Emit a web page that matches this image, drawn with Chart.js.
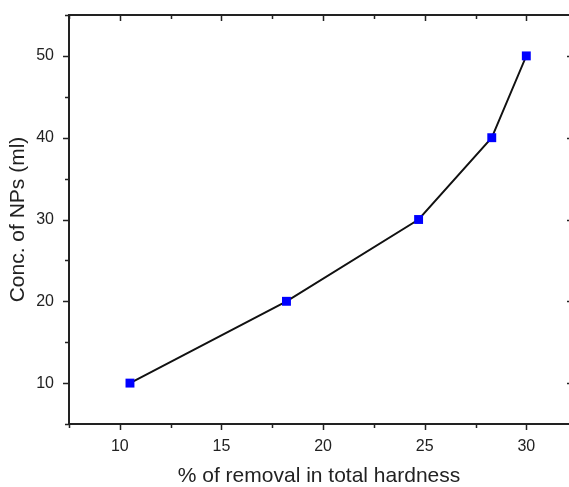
<!DOCTYPE html>
<html>
<head>
<meta charset="utf-8">
<script src="https://cdn.jsdelivr.net/npm/chart.js@4"></script>
<style>
  html, body { margin: 0; padding: 0; background: #fff; }
  #wrap { width: 569px; height: 487px; position: relative; }
</style>
</head>
<body>
<div id="wrap"><canvas id="chart" width="569" height="487"></canvas></div>
<script>
// data
const removal = [10.5, 18.2, 24.7, 28.3, 30];
const conc = [10, 20, 30, 40, 50];
const xTicks = [10, 15, 20, 25, 30];
const yTicks = [10, 20, 30, 40, 50];

const axisColor = '#222';
const fontFam = "'Liberation Sans', Arial, sans-serif";

// frame + origin-style ticks (out on bottom/left, in on top/right)
const frameTicks = {
    id: 'frameTicks',
    afterDraw(chart) {
        const ctx = chart.ctx;
        const a = chart.chartArea;
        const xs = chart.scales.x, ys = chart.scales.y;
        const rightEdge = a.right + 4; // right axis sits just past the canvas
        ctx.save();
        ctx.strokeStyle = axisColor;
        ctx.lineWidth = 2;
        ctx.beginPath();
        ctx.moveTo(a.right, a.top); ctx.lineTo(a.left, a.top);
        ctx.lineTo(a.left, a.bottom); ctx.lineTo(a.right, a.bottom);
        ctx.stroke();

        ctx.lineWidth = 1.5;
        ctx.beginPath();
        for (let v = 7.5; v <= xs.max; v += 2.5) {
            const px = Math.round(xs.getPixelForValue(v)) + 0.5;
            const len = xTicks.includes(v) ? 6 : 4;
            ctx.moveTo(px, a.bottom); ctx.lineTo(px, a.bottom + len);
            ctx.moveTo(px, a.top); ctx.lineTo(px, a.top + len);
        }
        for (let v = 5; v <= ys.max; v += 5) {
            const py = Math.round(ys.getPixelForValue(v)) + 0.5;
            const len = yTicks.includes(v) ? 6 : 4;
            ctx.moveTo(a.left, py); ctx.lineTo(a.left - len, py);
            ctx.moveTo(rightEdge, py); ctx.lineTo(rightEdge - len, py);
        }
        ctx.stroke();
        ctx.restore();
    }
};

new Chart(document.getElementById('chart'), {
    type: 'scatter',
    data: {
        datasets: [{
            data: removal.map((x, i) => ({ x: x, y: conc[i] })),
            showLine: true,
            borderColor: '#111',
            borderWidth: 1.9,
            pointStyle: 'rect',
            pointRadius: 6.3,
            pointBackgroundColor: '#0000ff',
            pointBorderColor: '#0000ff',
            pointBorderWidth: 0
        }]
    },
    options: {
        responsive: false,
        animation: false,
        layout: { autoPadding: false, padding: { top: 15, right: 0, left: 0, bottom: 0 } },
        plugins: {
            legend: { display: false },
            tooltip: { enabled: false }
        },
        scales: {
            x: {
                type: 'linear',
                min: 7.5,
                max: 32.1,
                afterBuildTicks: s => { s.ticks = xTicks.map(v => ({ value: v })); },
                afterFit: s => { s.height = 63; s.paddingLeft = 0; s.paddingRight = 0; },
                grid: { display: false, drawTicks: false },
                border: { display: false },
                ticks: {
                    color: '#222',
                    padding: 13,
                    maxRotation: 0,
                    font: { family: fontFam, size: 16 }
                },
                title: {
                    display: true,
                    text: '% of removal in total hardness',
                    color: '#222',
                    padding: { top: 0, bottom: -2 },
                    font: { family: fontFam, size: 21 }
                }
            },
            y: {
                type: 'linear',
                min: 5,
                max: 55,
                afterBuildTicks: s => { s.ticks = yTicks.map(v => ({ value: v })); },
                afterFit: s => { s.width = 69; s.paddingTop = 0; s.paddingBottom = 0; },
                grid: { display: false, drawTicks: false },
                border: { display: false },
                ticks: {
                    color: '#222',
                    padding: 15,
                    font: { family: fontFam, size: 16 }
                },
                title: {
                    display: true,
                    text: 'Conc. of NPs (ml)',
                    color: '#222',
                    padding: { top: 6, bottom: 0 },
                    font: { family: fontFam, size: 21 }
                }
            }
        }
    },
    plugins: [frameTicks]
});
</script>
</body>
</html>
